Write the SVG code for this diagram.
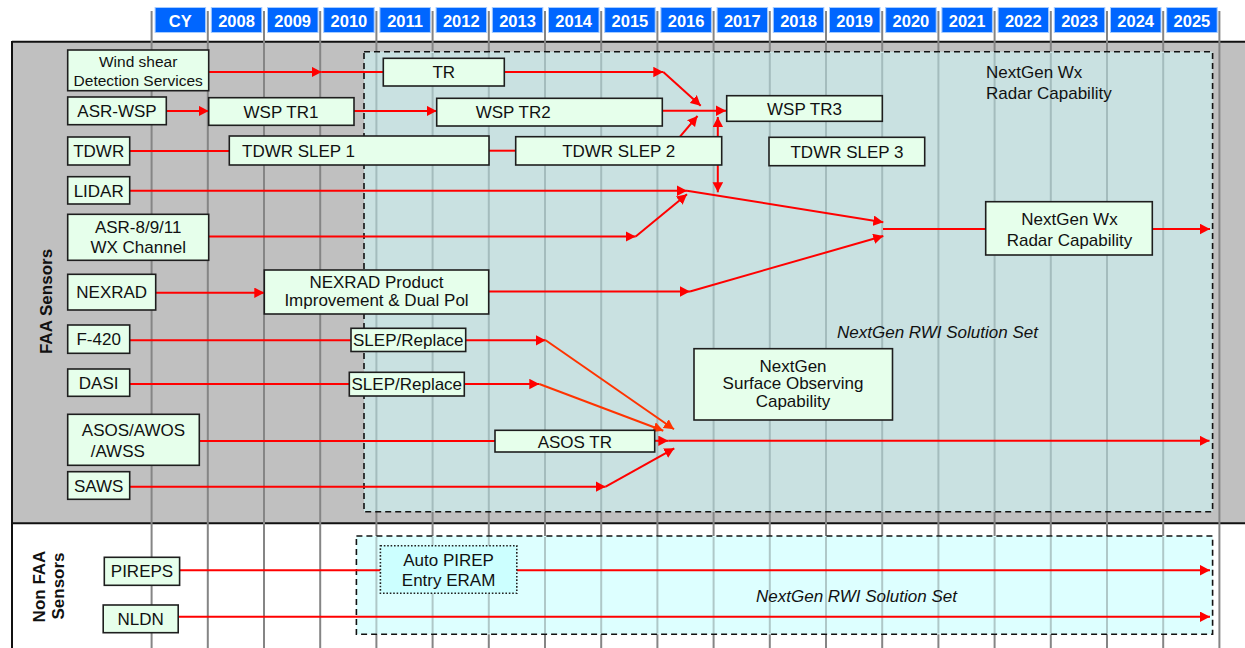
<svg xmlns="http://www.w3.org/2000/svg" width="1245" height="648" viewBox="0 0 1245 648">
<style>
text{font-family:"Liberation Sans",Arial,sans-serif;fill:#111}
.n{fill:#E6FFEB;stroke:#1e1e1e;stroke-width:1.6}
.t{font-size:17px;text-anchor:middle}
.ts{font-size:17px}
.yr{font-size:16.5px;font-weight:bold;fill:#fff;text-anchor:middle}
.hc{fill:#0066FF;stroke:#A6CCFF;stroke-width:1}
.g{stroke:#858585;stroke-width:2}
.gu{stroke:#A4BCBD;stroke-width:2}
.gl{stroke:#AFC8C8;stroke-width:2}
.c{fill:none;stroke:#FF0000;stroke-width:2}
.ca{fill:none;stroke:#FF0000;stroke-width:2;marker-end:url(#ar)}
.co{fill:none;stroke:#FF3300;stroke-width:2;marker-end:url(#ao)}
.lbl{font-size:17px;font-weight:bold;text-anchor:middle}
.it{font-size:17px;font-style:italic}
</style>
<defs>
<marker id="ar" markerUnits="userSpaceOnUse" markerWidth="11" markerHeight="11" refX="10" refY="5.25" orient="auto"><path d="M0,0 L10,5.25 L0,10.5 z" fill="#FF0000"/></marker>
<marker id="ao" markerUnits="userSpaceOnUse" markerWidth="11" markerHeight="11" refX="10" refY="5.25" orient="auto"><path d="M0,0 L10,5.25 L0,10.5 z" fill="#FF3300"/></marker>
</defs>
<rect x="0" y="0" width="1245" height="648" fill="#fff"/>
<!-- panels -->
<g id="panels">
<rect x="12" y="41.7" width="1240" height="481.6" fill="#C0C0C0"/>
<line x1="12" y1="41.7" x2="1245" y2="41.7" stroke="#111" stroke-width="2"/>
<line x1="12" y1="523.3" x2="1245" y2="523.3" stroke="#111" stroke-width="2"/>
<line x1="12" y1="41" x2="12" y2="648" stroke="#111" stroke-width="2"/>
</g>
<!-- grid -->
<g id="grid">
<line class="g" x1="151.6" y1="11" x2="151.6" y2="648"/>
<line class="g" x1="207.8" y1="11" x2="207.8" y2="648"/>
<line class="g" x1="264" y1="11" x2="264" y2="648"/>
<line class="g" x1="320.2" y1="11" x2="320.2" y2="648"/>
<line class="g" x1="376.4" y1="11" x2="376.4" y2="648"/>
<line class="g" x1="432.6" y1="11" x2="432.6" y2="648"/>
<line class="g" x1="488.8" y1="11" x2="488.8" y2="648"/>
<line class="g" x1="545" y1="11" x2="545" y2="648"/>
<line class="g" x1="601.2" y1="11" x2="601.2" y2="648"/>
<line class="g" x1="657.4" y1="11" x2="657.4" y2="648"/>
<line class="g" x1="713.6" y1="11" x2="713.6" y2="648"/>
<line class="g" x1="769.8" y1="11" x2="769.8" y2="648"/>
<line class="g" x1="826" y1="11" x2="826" y2="648"/>
<line class="g" x1="882.2" y1="11" x2="882.2" y2="648"/>
<line class="g" x1="938.4" y1="11" x2="938.4" y2="648"/>
<line class="g" x1="994.6" y1="11" x2="994.6" y2="648"/>
<line class="g" x1="1050.8" y1="11" x2="1050.8" y2="648"/>
<line class="g" x1="1107" y1="11" x2="1107" y2="648"/>
<line class="g" x1="1163.2" y1="11" x2="1163.2" y2="648"/>
<line class="g" x1="1219.4" y1="11" x2="1219.4" y2="648"/>
</g>
<!-- header -->
<g id="header">
<rect class="hc" x="155.1" y="7.5" width="50.5" height="25"/><text class="yr" x="180.3" y="26.5">CY</text>
<rect class="hc" x="211.3" y="7.5" width="50.5" height="25"/><text class="yr" x="236.5" y="26.5">2008</text>
<rect class="hc" x="267.5" y="7.5" width="50.5" height="25"/><text class="yr" x="292.7" y="26.5">2009</text>
<rect class="hc" x="323.7" y="7.5" width="50.5" height="25"/><text class="yr" x="348.9" y="26.5">2010</text>
<rect class="hc" x="379.9" y="7.5" width="50.5" height="25"/><text class="yr" x="405.1" y="26.5">2011</text>
<rect class="hc" x="436.1" y="7.5" width="50.5" height="25"/><text class="yr" x="461.3" y="26.5">2012</text>
<rect class="hc" x="492.3" y="7.5" width="50.5" height="25"/><text class="yr" x="517.5" y="26.5">2013</text>
<rect class="hc" x="548.5" y="7.5" width="50.5" height="25"/><text class="yr" x="573.7" y="26.5">2014</text>
<rect class="hc" x="604.7" y="7.5" width="50.5" height="25"/><text class="yr" x="629.9" y="26.5">2015</text>
<rect class="hc" x="660.9" y="7.5" width="50.5" height="25"/><text class="yr" x="686.1" y="26.5">2016</text>
<rect class="hc" x="717.1" y="7.5" width="50.5" height="25"/><text class="yr" x="742.3" y="26.5">2017</text>
<rect class="hc" x="773.3" y="7.5" width="50.5" height="25"/><text class="yr" x="798.5" y="26.5">2018</text>
<rect class="hc" x="829.5" y="7.5" width="50.5" height="25"/><text class="yr" x="854.7" y="26.5">2019</text>
<rect class="hc" x="885.7" y="7.5" width="50.5" height="25"/><text class="yr" x="910.9" y="26.5">2020</text>
<rect class="hc" x="941.9" y="7.5" width="50.5" height="25"/><text class="yr" x="967.1" y="26.5">2021</text>
<rect class="hc" x="998.1" y="7.5" width="50.5" height="25"/><text class="yr" x="1023.3" y="26.5">2022</text>
<rect class="hc" x="1054.3" y="7.5" width="50.5" height="25"/><text class="yr" x="1079.5" y="26.5">2023</text>
<rect class="hc" x="1110.5" y="7.5" width="50.5" height="25"/><text class="yr" x="1135.7" y="26.5">2024</text>
<rect class="hc" x="1166.7" y="7.5" width="50.5" height="25"/><text class="yr" x="1191.9" y="26.5">2025</text>
</g>
<!-- solution set boxes -->
<g id="rwi-upper">
<rect x="364" y="51.7" width="848.6" height="460" fill="#C9E1E1"/>
<g class="gu">
<line x1="376.4" y1="53" x2="376.4" y2="511"/><line x1="432.6" y1="53" x2="432.6" y2="511"/><line x1="488.8" y1="53" x2="488.8" y2="511"/><line x1="545" y1="53" x2="545" y2="511"/><line x1="601.2" y1="53" x2="601.2" y2="511"/><line x1="657.4" y1="53" x2="657.4" y2="511"/><line x1="713.6" y1="53" x2="713.6" y2="511"/><line x1="769.8" y1="53" x2="769.8" y2="511"/><line x1="826" y1="53" x2="826" y2="511"/><line x1="882.2" y1="53" x2="882.2" y2="511"/><line x1="938.4" y1="53" x2="938.4" y2="511"/><line x1="994.6" y1="53" x2="994.6" y2="511"/><line x1="1050.8" y1="53" x2="1050.8" y2="511"/><line x1="1107" y1="53" x2="1107" y2="511"/><line x1="1163.2" y1="53" x2="1163.2" y2="511"/>
</g>
<rect x="364" y="51.7" width="848.6" height="460" fill="none" stroke="#111" stroke-width="1.6" stroke-dasharray="6,4"/>
<text class="ts" x="986" y="77.5">NextGen Wx</text>
<text class="ts" x="986" y="98.5">Radar Capability</text>
<text class="it" x="837" y="337.5">NextGen RWI Solution Set</text>
</g>
<g id="rwi-lower">
<rect x="356.4" y="536" width="856.2" height="98.3" fill="#DDFFFF"/>
<g class="gl">
<line x1="376.4" y1="537" x2="376.4" y2="633.5"/><line x1="432.6" y1="537" x2="432.6" y2="633.5"/><line x1="488.8" y1="537" x2="488.8" y2="633.5"/><line x1="545" y1="537" x2="545" y2="633.5"/><line x1="601.2" y1="537" x2="601.2" y2="633.5"/><line x1="657.4" y1="537" x2="657.4" y2="633.5"/><line x1="713.6" y1="537" x2="713.6" y2="633.5"/><line x1="769.8" y1="537" x2="769.8" y2="633.5"/><line x1="826" y1="537" x2="826" y2="633.5"/><line x1="882.2" y1="537" x2="882.2" y2="633.5"/><line x1="938.4" y1="537" x2="938.4" y2="633.5"/><line x1="994.6" y1="537" x2="994.6" y2="633.5"/><line x1="1050.8" y1="537" x2="1050.8" y2="633.5"/><line x1="1107" y1="537" x2="1107" y2="633.5"/><line x1="1163.2" y1="537" x2="1163.2" y2="633.5"/>
</g>
<rect x="356.4" y="536" width="856.2" height="98.3" fill="none" stroke="#111" stroke-width="1.6" stroke-dasharray="6,4"/>
<text class="it" x="756" y="602">NextGen RWI Solution Set</text>
</g>
<!-- section labels -->
<g id="labels">
<text class="lbl" transform="translate(52,301.5) rotate(-90)">FAA Sensors</text>
<text class="lbl" transform="translate(44.6,586.5) rotate(-90)">Non FAA</text>
<text class="lbl" transform="translate(63.6,586) rotate(-90)">Sensors</text>
</g>
<!-- connectors -->
<g id="connectors">
<path class="ca" d="M208.7,72 H321.7"/>
<path class="c" d="M321.7,72 H383.3"/>
<path class="ca" d="M166.3,111 H208.7"/>
<path class="ca" d="M354,111 H436.7"/>
<path class="ca" d="M504.3,72 H663.3"/>
<path class="ca" d="M663.3,72 L700.7,105.7"/>
<path class="ca" d="M662.3,110.7 H726"/>
<path class="ca" d="M680,136.7 L697.5,116"/>
<path class="ca" d="M717.8,136.7 V117"/>
<path class="ca" d="M717.8,165 V192.3"/>
<path class="c" d="M129.7,151 H229.3"/>
<path class="c" d="M489,150.7 H515.7"/>
<path class="ca" d="M129.7,190.7 H687"/>
<path class="ca" d="M687,190.7 L883.3,222.3"/>
<path class="ca" d="M208.7,236.5 H635.7"/>
<path class="ca" d="M635.7,236.5 L687,194.3"/>
<path class="ca" d="M155.7,292.8 H264.3"/>
<path class="ca" d="M488.7,291.5 H690"/>
<path class="ca" d="M690,291.5 L883.3,236"/>
<path class="c" d="M883,229 H985.7"/>
<path class="ca" d="M1152.3,229 H1210"/>
<path class="c" d="M129.7,340.3 H351"/>
<path class="ca" d="M465.7,340.3 H545.7"/>
<path class="co" d="M545.7,340.3 L674,429.3"/>
<path class="c" d="M129.7,384 H349.3"/>
<path class="ca" d="M464.3,384 H539.3"/>
<path class="co" d="M539.3,384 L663.3,430.7"/>
<path class="c" d="M199.3,441 H495"/>
<path class="ca" d="M654.7,440.8 H668.3"/>
<path class="ca" d="M668.3,440.8 H1209.5"/>
<path class="ca" d="M129.7,486.7 H605.7"/>
<path class="ca" d="M605.7,486.7 L674.3,448.3"/>
<path class="c" d="M179.6,570.2 H380.4"/>
<path class="ca" d="M516.8,570.2 H1210"/>
<path class="ca" d="M178.2,616.8 H1210"/>
</g>
<!-- nodes -->
<g id="n-windshear"><rect class="n" x="67.7" y="50" width="141" height="40.7"/><text class="t" x="138.2" y="66.7" style="font-size:15.5px">Wind shear</text><text class="t" x="138.2" y="86" style="font-size:15.5px">Detection Services</text></g>
<g id="n-asrwsp"><rect class="n" x="67.7" y="97" width="98.6" height="27.7"/><text class="t" x="117" y="117">ASR-WSP</text></g>
<g id="n-wsptr1"><rect class="n" x="208.7" y="97.7" width="145.3" height="27.6"/><text class="t" x="281" y="117.5">WSP TR1</text></g>
<g id="n-tr"><rect class="n" x="383.3" y="58.3" width="121" height="27.7"/><text class="t" x="443.8" y="78.2">TR</text></g>
<g id="n-wsptr2"><rect class="n" x="436.7" y="98.3" width="225.6" height="27.7"/><text class="ts" x="475.7" y="118.2">WSP TR2</text></g>
<g id="n-wsptr3"><rect class="n" x="726.7" y="95.7" width="155.6" height="25.6"/><text class="t" x="804.5" y="114.5">WSP TR3</text></g>
<g id="n-tdwr"><rect class="n" x="67.7" y="137" width="62" height="28"/><text class="t" x="98.7" y="157">TDWR</text></g>
<g id="n-tdwrslep1"><rect class="n" x="229.3" y="136" width="259.7" height="29"/><text class="ts" x="242" y="156.6">TDWR SLEP 1</text></g>
<g id="n-tdwrslep2"><rect class="n" x="515.7" y="136.7" width="206" height="28.3"/><text class="t" x="618.7" y="157">TDWR SLEP 2</text></g>
<g id="n-tdwrslep3"><rect class="n" x="769" y="137.3" width="155.7" height="28.4"/><text class="t" x="847" y="157.6">TDWR SLEP 3</text></g>
<g id="n-lidar"><rect class="n" x="67.7" y="176.7" width="62" height="27.3"/><text class="t" x="98.7" y="196.6">LIDAR</text></g>
<g id="n-asr8911"><rect class="n" x="67.7" y="214.3" width="141" height="46"/><text class="t" x="138.2" y="233.3">ASR-8/9/11</text><text class="t" x="138.2" y="252.7">WX Channel</text></g>
<g id="n-nexrad"><rect class="n" x="67.7" y="274.3" width="88" height="35.7"/><text class="t" x="111.7" y="298.3">NEXRAD</text></g>
<g id="n-nexradpi"><rect class="n" x="264.3" y="270" width="224.4" height="44"/><text class="t" x="376.5" y="288.3">NEXRAD Product</text><text class="t" x="376.5" y="306">Improvement &amp; Dual Pol</text></g>
<g id="n-f420"><rect class="n" x="67.7" y="325" width="62" height="28.3"/><text class="t" x="98.7" y="345.2">F-420</text></g>
<g id="n-slep1"><rect class="n" x="351" y="328.3" width="114.7" height="23.2"/><text class="t" x="408.3" y="345.8">SLEP/Replace</text></g>
<g id="n-dasi"><rect class="n" x="67.7" y="369" width="62" height="27.3"/><text class="t" x="98.7" y="388.8">DASI</text></g>
<g id="n-slep2"><rect class="n" x="349.3" y="372.3" width="115" height="23.7"/><text class="t" x="406.8" y="390.3">SLEP/Replace</text></g>
<g id="n-asos"><rect class="n" x="67.7" y="414.3" width="131.6" height="51"/><text class="t" x="133.5" y="436">ASOS/AWOS</text><text class="ts" x="90.7" y="456.7">/AWSS</text></g>
<g id="n-asostr"><rect class="n" x="495" y="430.3" width="159.7" height="21.7"/><text class="t" x="574.8" y="447.6">ASOS TR</text></g>
<g id="n-saws"><rect class="n" x="67.7" y="471.7" width="62" height="27.6"/><text class="t" x="98.7" y="491.5">SAWS</text></g>
<g id="n-nextgenwx"><rect class="n" x="985.7" y="201.7" width="166.6" height="53.3"/><text class="t" x="1069.5" y="225">NextGen Wx</text><text class="t" x="1069.5" y="246">Radar Capability</text></g>
<g id="n-surface"><rect class="n" x="694" y="348.7" width="198.5" height="71.3"/><text class="t" x="793" y="371.7">NextGen</text><text class="t" x="793" y="389.2">Surface Observing</text><text class="t" x="793" y="406.7">Capability</text></g>
<g id="n-pireps"><rect class="n" x="104.3" y="557.3" width="75.3" height="28"/><text class="t" x="142" y="577.2">PIREPS</text></g>
<g id="n-nldn"><rect class="n" x="103.2" y="605" width="75" height="27.7"/><text class="t" x="140.7" y="624.8">NLDN</text></g>
<g id="n-autopirep"><rect x="380.4" y="545.7" width="136.4" height="47.6" fill="#CCFFFF" stroke="#222" stroke-width="1.6" stroke-dasharray="1.6,1.8"/><text class="t" x="448.6" y="565.7">Auto PIREP</text><text class="t" x="448.6" y="585.5">Entry ERAM</text></g>
</svg>
